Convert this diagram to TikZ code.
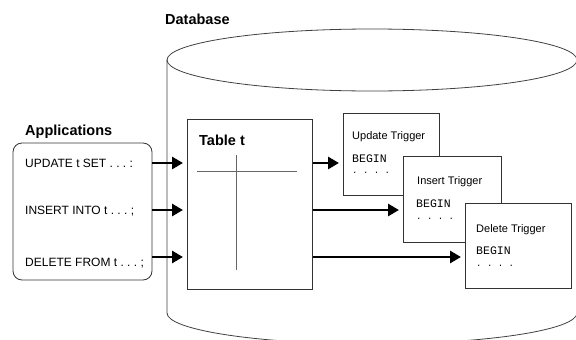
\documentclass[tikz,border=0pt]{standalone}
\usepackage{fontspec}
\setmainfont{Liberation Sans}
\setmonofont{Liberation Mono}
\usetikzlibrary{arrows.meta}
\frenchspacing
\begin{document}
\begin{tikzpicture}[x=1pt,y=-1pt,
  lbl/.style={inner sep=0pt,anchor=base west,font=\fontsize{14.5}{15}\selectfont\bfseries},
  txt/.style={inner sep=0pt,anchor=base west,font=\fontsize{11}{12}\selectfont},
  apptxt/.style={inner sep=0pt,anchor=base west,font=\fontsize{12}{13}\selectfont},
  code/.style={inner sep=0pt,anchor=base west,font=\fontsize{11.5}{12}\selectfont\ttfamily},
  dots/.style={inner sep=0pt,anchor=base west,font=\fontsize{9}{10}\selectfont\ttfamily},
  box/.style={draw=black!80,line width=0.8pt,fill=white,inner sep=0pt,anchor=north west},
  flow/.style={line width=2.8pt,-{Triangle[length=11pt,width=12pt]},shorten >=4pt}]
\useasboundingbox (0,0) rectangle (576,340);
% cylinder
\begin{scope}
\clip (0,0) rectangle (576,340);
\draw[black!75,line width=0.8pt] (372,60) ellipse [x radius=205,y radius=31];
\draw[black!75,line width=0.8pt] (167,60) -- (167,313) arc[start angle=180,end angle=0,x radius=205,y radius=31] -- (577,60);
\end{scope}
\node[lbl] (dblbl) at (165,24) {Database};
% applications
\node[lbl] (applbl) at (25,135) {Applications};
\draw[black!80,line width=0.8pt,rounded corners=9pt] (13,143) rectangle (152,280);
\node[apptxt] (upd) at (25,167) {UPDATE t SET . . . :};
\node[apptxt] (ins) at (25,214) {INSERT INTO t . . . ;};
\node[apptxt] (del) at (25,266) {DELETE FROM t . . . ;};
\coordinate (a1) at (152,163);
\coordinate (a2) at (152,210);
\coordinate (a3) at (152,257);
% table
\node[box,minimum width=125pt,minimum height=170pt] (tab) at (187,119) {};
\node[lbl] (tablbl) at (199,145) {Table t};
\draw[black!60,line width=0.8pt] (197,171) -- (297,171);
\draw[black!60,line width=0.8pt] (236,155) -- (236,270);
% triggers
\node[box,minimum width=96pt,minimum height=82pt] (ut) at (343,113) {};
\node[txt] (utl) at (352,139) {Update Trigger};
\node[code] (utb) at (352,162) {BEGIN};
\node[dots] (utd) at (352,173) {. . . .};
\node[box,minimum width=98pt,minimum height=86pt] (it) at (403,156) {};
\node[txt] (itl) at (417,184) {Insert Trigger};
\node[code] (itb) at (416,207) {BEGIN};
\node[dots] (itd) at (416,219) {. . . .};
\node[box,minimum width=106pt,minimum height=85pt] (dt) at (465,203) {};
\node[txt] (dtl) at (476,232) {Delete Trigger};
\node[code] (dtb) at (476,254) {BEGIN};
\node[dots] (dtd) at (476,266) {. . . .};
% arrows
\draw[flow] (a1) -- (a1 -| tab.west);
\draw[flow] (a2) -- (a2 -| tab.west);
\draw[flow] (a3) -- (a3 -| tab.west);
\draw[flow] (tab.east |- a1) -- (a1 -| ut.west);
\draw[flow] (tab.east |- a2) -- (a2 -| it.west);
\draw[flow] (tab.east |- a3) -- (a3 -| dt.west);
\end{tikzpicture}
\end{document}
